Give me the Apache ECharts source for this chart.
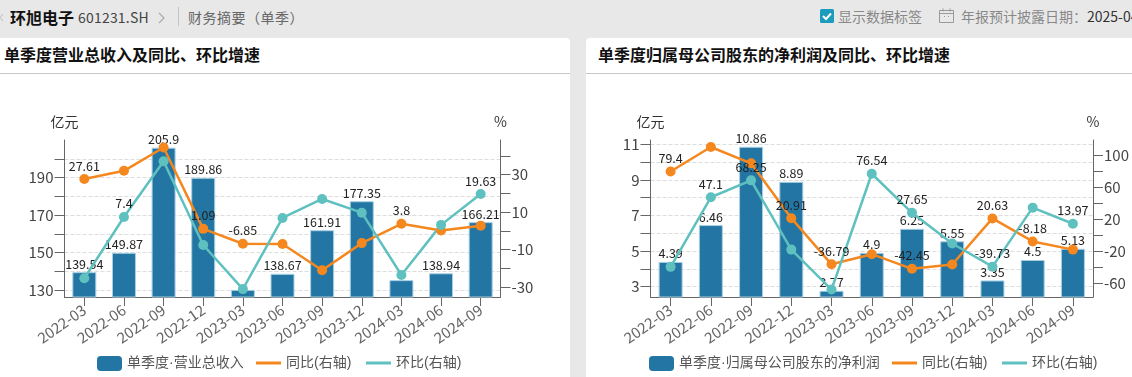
<!DOCTYPE html>
<html><head><meta charset="utf-8">
<style>
html,body{margin:0;padding:0;width:1132px;height:377px;overflow:hidden;background:#e8e8e8;font-family:"Noto Sans CJK SC","Noto Sans",sans-serif;text-spacing-trim:space-all}
.abs{position:absolute;white-space:nowrap}
.panel{position:absolute;top:38px;height:339px;background:#fff;border-radius:4px 4px 0 0}
.rule{position:absolute;top:73px;height:1px;background:#c8c8c8}
.ptitle{position:absolute;top:42px;line-height:24px;font-size:16px;font-weight:bold;color:#111;white-space:nowrap}
.chart{position:absolute;top:74px;height:303px}
</style></head><body>
<div class="panel" style="left:-6px;width:576px"></div>
<div class="panel" style="left:586px;width:552px"></div>
<div class="rule" style="left:0;width:570px"></div>
<div class="rule" style="left:586px;width:546px"></div>
<svg class="abs" style="left:0;top:13px" width="3" height="9"><path d="M3 1l-3 3.5 3 3.5" fill="none" stroke="#bbb"/></svg>
<div class="abs" style="left:10px;top:5px;line-height:24px;font-size:16px;font-weight:bold;color:#111">环旭电子</div>
<div class="abs" style="left:78px;top:5px;line-height:24px;font-size:14px;color:#444;letter-spacing:.2px">601231.SH</div>
<svg class="abs" style="left:158px;top:12px" width="8" height="12"><path d="M1 1l5 5-5 5" fill="none" stroke="#aaa" stroke-width="1.2"/></svg>
<div class="abs" style="left:178px;top:7px;width:1px;height:19px;background:#c4c4c4"></div>
<div class="abs" style="left:188px;top:5px;line-height:24px;font-size:14px;color:#666;letter-spacing:.5px">财务摘要（单季）</div>
<svg class="abs" style="left:820px;top:9px" width="14" height="14"><rect width="14" height="14" rx="1.5" fill="#1b9cbc"/><path d="M3 7l3 3 5-5.5" fill="none" stroke="#fff" stroke-width="2"/></svg>
<div class="abs" style="left:838px;top:4px;line-height:24px;font-size:14px;color:#888">显示数据标签</div>
<svg class="abs" style="left:939px;top:8px" width="15" height="15"><path d="M.5 2.5h14v12H.5zM.5 5.5h14M4 .5v3M11 .5v3M5 8.5h1M9 8.5h1" fill="none" stroke="#999"/></svg>
<div class="abs" style="left:961px;top:4px;line-height:24px;font-size:14px;color:#888">年报预计披露日期：<span style="color:#333">2025-04</span></div>
<div class="ptitle" style="left:4px">单季度营业总收入及同比、环比增速</div>
<div class="ptitle" style="left:598px">单季度归属母公司股东的净利润及同比、环比增速</div>
<div id="c1" class="chart" style="left:0;width:570px"></div>
<div id="c2" class="chart" style="left:586px;width:546px"></div>
<script src="https://cdn.jsdelivr.net/npm/echarts@6/dist/echarts.min.js"></script>
<script>
const categories = ['2022-03','2022-06','2022-09','2022-12','2023-03','2023-06','2023-09','2023-12','2024-03','2024-06','2024-09'];

const revenueName = '单季度·营业总收入';
const revenue = [139.54,149.87,205.9,189.86,130.1,138.67,161.91,177.35,135.3,138.94,166.21];
const revenueYoY = [27.61,32,44.4,1.09,-6.85,-7,-21,-6.5,3.8,0.2,2.8];
const revenueQoQ = [-25.2,7.4,37.1,-7.5,-31,6.9,17,9.7,-23.5,3.2,19.63];
const revenueShown = [1,1,1,1,0,1,1,1,0,1,1];
const revenueYoYShown = [1,0,0,1,1,0,0,0,1,0,0];
const revenueQoQShown = [0,1,0,0,0,0,0,0,0,0,1];

const profitName = '单季度·归属母公司股东的净利润';
const profit = [4.39,6.46,10.86,8.89,2.77,4.9,6.25,5.55,3.35,4.5,5.13];
const profitYoY = [79.4,110,89.6,20.91,-36.79,-24.1,-42.45,-37.1,20.63,-8.18,-18.4];
const profitQoQ = [-40,47.1,68.25,-18.4,-68.4,76.54,27.65,-10.8,-39.73,34.1,13.97];
const profitShown = [1,1,1,1,1,1,1,1,1,1,1];
const profitYoYShown = [1,0,0,1,1,0,1,0,1,1,0];
const profitQoQShown = [0,1,1,0,0,1,1,0,1,0,1];

const revLeftTicks = [130,140,150,160,170,180,190,200];
const revLeftLabels = [130,150,170,190];
const revRightTicks = [-30,-20,-10,0,10,20,30,40];
const revRightLabels = [-30,-10,10,30];
const proLeftTicks = [3,4,5,6,7,8,9,10,11];
const proLeftLabels = [3,5,7,9,11];
const proRightTicks = [-60,-40,-20,0,20,40,60,80,100];
const proRightLabels = [-60,-20,20,60,100];

const FONT = '"Noto Sans CJK SC","Noto Sans",sans-serif';
const LEGENDFONT = '"Liberation Sans","Noto Sans CJK SC",sans-serif';
const lbl = (flags) => ({show:true,position:'top',distance:2,fontSize:12.5,color:'#222',fontFamily:FONT,
  formatter:p=>flags[p.dataIndex]?String(p.value):''});
function build(el,c){
  const chart = echarts.init(document.getElementById(el),null,{renderer:'canvas'});
  const axisLine = {show:true,onZero:false,lineStyle:{color:'#666',width:1}};
  const tick = vals => ({show:true,length:10,customValues:vals,lineStyle:{color:'#666'}});
  const yLabel = (vals,extra) => Object.assign({customValues:vals,fontSize:15,color:'#444',fontFamily:FONT,margin:11},extra||{});
  const line = (name,data,color,flags) => ({name,type:'line',yAxisIndex:1,data,zlevel:1,z:3,symbol:'circle',symbolSize:10,
    showAllSymbol:true,lineStyle:{color,width:2.5},itemStyle:{color},label:lbl(flags)});
  const legend = (left,name,h,top) => ({left,top,itemWidth:25,itemHeight:h,padding:0,
    itemStyle:{borderWidth:0},textStyle:{fontSize:14,color:'#555',fontFamily:LEGENDFONT},
    data:[{name,icon:h>5?'roundRect':'rect'}]});
  chart.setOption({
    animation:false,
    grid:{left:c.left,width:c.width,top:66,height:157,containLabel:false},
    legend:[legend(c.legend[0],c.name,15,282),legend(c.legend[1],'同比(右轴)',3,282),legend(c.legend[2],'环比(右轴)',3,282)],
    xAxis:{type:'category',data:categories,boundaryGap:true,axisLine,
      axisTick:{show:true,length:9,alignWithLabel:true,lineStyle:{color:'#666'}},
      axisLabel:{rotate:35,fontSize:15,color:'#666',fontFamily:FONT,margin:11,interval:0},splitLine:{show:false}},
    yAxis:[
      {type:'value',min:c.lMin,max:c.lMax,name:'亿元',nameGap:11,nameTextStyle:{fontSize:14,color:'#333',fontFamily:FONT,align:'center'},
       axisLine,axisTick:tick(c.lTicks),axisLabel:yLabel(c.lLabels),
       splitLine:{show:true,lineStyle:{color:'#ddd',type:'dashed'}}},
      {type:'value',min:c.rMin,max:c.rMax,name:'%',nameGap:11,nameTextStyle:{fontSize:14,color:'#333',fontFamily:FONT,align:'center'},
       position:'right',axisLine,axisTick:tick(c.rTicks),axisLabel:yLabel(c.rLabels,{padding:[0,0,3,0]}),
       splitLine:{show:false}}
    ],
    series:[
      {name:c.name,type:'bar',data:c.bars,barWidth:24,zlevel:0,
       itemStyle:{color:'#2376a4',borderColor:'#a9d0e2',borderWidth:1},label:lbl(c.barShown)},
      line('同比(右轴)',c.yoy,'#f5871f',c.yoyShown),
      line('环比(右轴)',c.qoq,'#5fc1bf',c.qoqShown)
    ]
  });
}
build('c1',{left:64.5,width:436,legend:[97,256,366],name:revenueName,bars:revenue,yoy:revenueYoY,qoq:revenueQoQ,
  barShown:revenueShown,yoyShown:revenueYoYShown,qoqShown:revenueQoQShown,
  lMin:126.3,lMax:210,rMin:-35.2,rMax:48.4,lTicks:revLeftTicks,lLabels:revLeftLabels,rTicks:revRightTicks,rLabels:revRightLabels});
build('c2',{left:64.5,width:444,legend:[63,306,416],name:profitName,bars:profit,yoy:profitYoY,qoq:profitQoQ,
  barShown:profitShown,yoyShown:profitYoYShown,qoqShown:profitQoQShown,
  lMin:2.42,lMax:11.24,rMin:-77.7,rMax:118.75,lTicks:proLeftTicks,lLabels:proLeftLabels,rTicks:proRightTicks,rLabels:proRightLabels});
</script>
</body></html>
